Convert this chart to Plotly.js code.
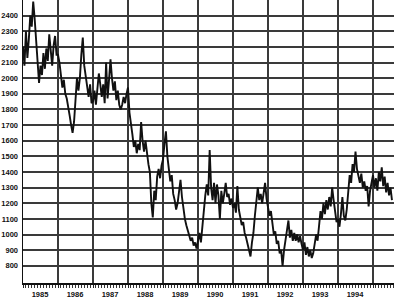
<!DOCTYPE html>
<html>
<head>
<meta charset="utf-8">
<script src="https://cdn.plot.ly/plotly-3.0.1.min.js"></script>
<style>
  html, body { margin: 0; padding: 0; background: #ffffff; }
  #chart { width: 394px; height: 300px; }
</style>
</head>
<body>
<div id="chart"></div>
<script>
// Semi-monthly readings (24 per year)
const v1985 = [2200, 2080, 2300, 2130, 2250, 2400, 2330, 2490, 2380, 2250, 2120, 1970,
               2080, 2020, 2160, 2060, 2190, 2110, 2280, 2150, 2080, 2210, 2270, 2150];
const v1986 = [2150, 2100, 2000, 1940, 1990, 1900, 1870, 1800, 1760, 1700, 1650, 1720,
               1880, 2000, 1920, 2000, 2150, 2260, 2080, 2000, 1940, 1880, 1960, 1840];
const v1987 = [1850, 1920, 1830, 1950, 2030, 1960, 1880, 1960, 1840, 2100, 1870, 1990,
               2120, 2000, 1920, 1980, 1860, 1920, 1830, 1800, 1830, 1880, 1840, 1900];
const v1988 = [1940, 1780, 1690, 1640, 1560, 1600, 1520, 1580, 1540, 1720, 1600, 1530,
               1600, 1500, 1450, 1400, 1200, 1110, 1280, 1220, 1370, 1420, 1360, 1440];
const v1989 = [1480, 1580, 1660, 1500, 1420, 1340, 1380, 1260, 1220, 1160, 1200, 1290,
               1350, 1240, 1160, 1100, 1060, 1030, 1000, 960, 980, 930, 950, 910];
const v1990 = [960, 1010, 950, 1060, 1120, 1250, 1320, 1250, 1540, 1300, 1220, 1330,
               1200, 1320, 1250, 1100, 1280, 1200, 1260, 1330, 1240, 1260, 1190, 1230];
const v1991 = [1170, 1200, 1140, 1310, 1160, 1120, 1060, 1080, 1010, 980, 940, 900,
               860, 950, 1010, 1120, 1200, 1300, 1220, 1260, 1200, 1270, 1330, 1230];
const v1992 = [1180, 1120, 1150, 1050, 1000, 1020, 940, 960, 880, 900, 800, 900,
               960, 1000, 1090, 980, 1030, 960, 1010, 960, 1000, 950, 990, 940];
const v1993 = [900, 950, 870, 920, 860, 900, 850, 880, 940, 1000, 960, 1080,
               1150, 1100, 1200, 1130, 1220, 1160, 1240, 1180, 1300, 1220, 1140, 1080];
const v1994 = [1100, 1050, 1130, 1240, 1120, 1090, 1160, 1300, 1380, 1330, 1450, 1400,
               1530, 1420, 1370, 1330, 1390, 1300, 1340, 1280, 1310, 1180, 1280, 1340];
const v1995 = [1380, 1300, 1360, 1280, 1400, 1340, 1430, 1310, 1370, 1270, 1330, 1250,
               1300, 1220];

const years = [1985, 1986, 1987, 1988, 1989, 1990, 1991, 1992, 1993, 1994, 1995];
const yearValues = [v1985, v1986, v1987, v1988, v1989, v1990, v1991, v1992, v1993, v1994, v1995];
const yearLabels = ['1985', '1986', '1987', '1988', '1989', '1990', '1991', '1992', '1993', '1994', ''];
const yTicks = [800, 900, 1000, 1100, 1200, 1300, 1400, 1500, 1600, 1700, 1800, 1900,
                2000, 2100, 2200, 2300, 2400];
const periodsPerYear = 24;

const xs = [], ys = [];
years.forEach((yr, i) => {
  yearValues[i].forEach((v, k) => {
    xs.push(yr + k / periodsPerYear);
    ys.push(v);
  });
});

const tickFont = { family: 'Liberation Sans, Arial, sans-serif', size: 7.5, color: '#111', weight: 'bold' };

const trace = {
  x: xs, y: ys, type: 'scatter', mode: 'lines',
  line: { color: '#111111', width: 1.9 },
  hoverinfo: 'skip'
};

const layout = {
  width: 394, height: 300,
  margin: { l: 23, r: 0, t: 0, b: 17 },
  paper_bgcolor: '#ffffff', plot_bgcolor: '#ffffff',
  showlegend: false,
  xaxis: {
    range: [1985, 1995.6],
    tickmode: 'array', tickvals: years, ticktext: yearLabels,
    ticklabelshift: 17,
    ticks: 'outside', ticklen: 3, tickwidth: 1, tickcolor: '#222',
    showgrid: true, gridcolor: '#3a3a3a', gridwidth: 2,
    showline: true, linecolor: '#111', linewidth: 1.5,
    zeroline: false,
    tickfont: tickFont,
    minor: { tickmode: 'linear', tick0: 1985, dtick: 1 / 12, ticks: 'outside', ticklen: 3,
             tickwidth: 1, tickcolor: '#333', showgrid: false }
  },
  yaxis: {
    range: [690, 2500],
    tickmode: 'array', tickvals: yTicks, ticktext: yTicks.map(String),
    ticks: '', ticklabelstandoff: 2,
    showgrid: true, gridcolor: '#3a3a3a', gridwidth: 2,
    showline: true, linecolor: '#111', linewidth: 1.5,
    zeroline: false,
    tickfont: tickFont
  }
};

Plotly.newPlot('chart', [trace], layout, { displayModeBar: false, staticPlot: true });
</script>
</body>
</html>
